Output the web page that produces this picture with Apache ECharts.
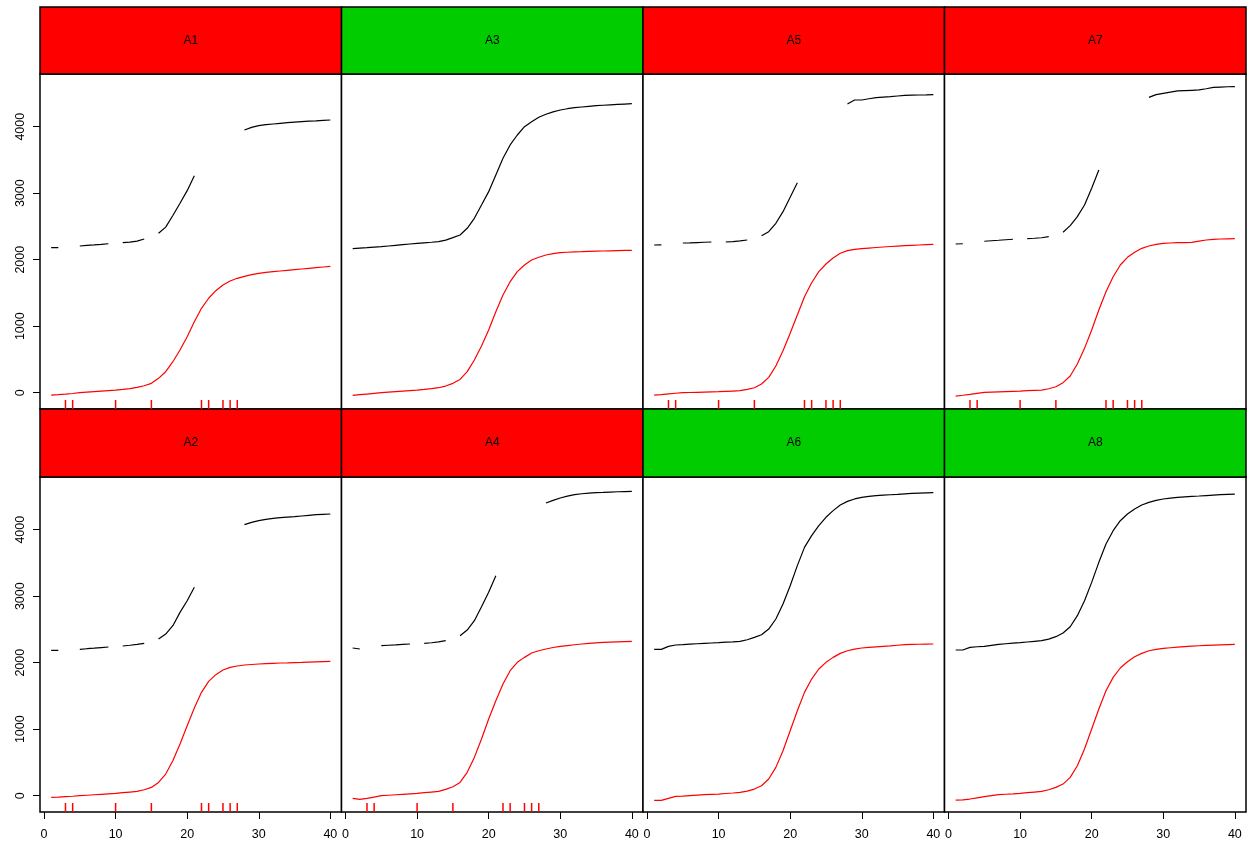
<!DOCTYPE html>
<html>
<head>
<meta charset="utf-8">
<script src="https://cdn.jsdelivr.net/npm/echarts@6/dist/echarts.min.js"></script>
<style>
  html, body { margin: 0; padding: 0; background: #fff; }
  #chart { width: 1249px; height: 845px; }
</style>
</head>
<body>
<div id="chart"></div>
<script>
// cycle numbers on the x axis
var cycles = [1,2,3,4,5,6,7,8,9,10,11,12,13,14,15,16,17,18,19,20,
              21,22,23,24,25,26,27,28,29,30,31,32,33,34,35,36,37,38,39,40];
// cycles marked with a rug tick in the flagged panels
var rugCycles = [3,4,10,15,22,23,25,26,27];
var xTicks = [0,10,20,30,40];
var yTicks = [0,1000,2000,3000,4000];

// panels in layout order (row by row)
var panelNames = ['A1','A3','A5','A7','A2','A4','A6','A8'];
var panelFlagged = [true,false,true,true,true,true,false,false];

var a1Black = [2180,2182,null,null,2206,2215,2222,2230,2240,null,2256,2265,2280,2311,null,2397,2490,2665,2848,3038,
               3263,null,null,3750,null,null,null,3950,3990,4015,4030,4040,4050,4060,4068,4075,4082,4088,4095,4100];
var a1Red = [-35,-30,-22,-12,0,8,16,24,32,40,50,62,80,105,141,216,316,466,642,842,
             1068,1269,1420,1534,1620,1680,1720,1750,1775,1795,1808,1820,1830,1840,1850,1860,1870,1880,1890,1900];

var a3Black = [2166,2174,2181,2189,2196,2206,2216,2226,2236,2246,2254,2262,2271,2295,2331,2371,2472,2622,2822,3023,
               3274,3525,3725,3875,4000,4075,4141,4186,4222,4251,4270,4286,4296,4306,4316,4322,4328,4334,4340,4346];
var a3Red = [-40,-30,-20,-10,0,8,16,24,32,40,50,62,75,100,141,200,316,491,702,943,
             1218,1469,1669,1820,1920,1995,2036,2070,2090,2105,2112,2118,2120,2125,2128,2131,2134,2137,2139,2141];

var a5Black = [2221,2222,null,null,2251,2254,2258,2262,2266,null,2266,2272,2282,2296,null,2361,2421,2547,2722,2938,
               3158,null,null,3900,null,null,null,4341,4401,4401,4420,4436,4444,4451,4461,4471,4474,4476,4478,4481];
var a5Red = [-35,-28,-18,-8,0,3,6,9,12,15,20,25,30,50,75,131,231,401,632,893,
             1168,1444,1654,1820,1935,2025,2096,2136,2155,2166,2175,2183,2191,2198,2205,2211,2216,2221,2226,2231];

var a7Black = [2236,2240,null,null,2277,2285,2292,2300,2307,null,2316,2322,2330,2346,null,2412,2512,2647,2822,3073,
               3349,null,null,4000,null,null,null,4441,4482,4502,4520,4537,4542,4547,4552,4570,4590,4596,4600,4602];
var a7Red = [-50,-38,-25,-10,5,9,13,17,21,25,30,35,40,60,90,151,251,431,667,943,
             1244,1519,1744,1920,2036,2111,2171,2206,2230,2246,2251,2256,2258,2261,2280,2296,2305,2311,2314,2316];

var a2Black = [2185,2185,null,null,2201,2210,2218,2227,2236,null,2251,2262,2275,2291,null,2356,2431,2556,2757,2932,
               3133,null,null,3700,null,null,null,4075,4110,4135,4155,4170,4180,4188,4196,4206,4216,4226,4231,4236];
var a2Red = [-25,-22,-15,-8,0,7,14,21,28,35,45,55,65,90,125,200,326,526,777,1053,
             1318,1554,1719,1820,1890,1930,1950,1965,1973,1980,1985,1990,1995,1998,2002,2005,2009,2013,2017,2020];

var a4Black = [2221,2206,null,null,2256,2262,2268,2275,2281,null,2291,2300,2312,2331,null,2406,2491,2632,2842,3058,
               3308,null,null,4000,null,null,null,4401,4440,4476,4505,4526,4540,4550,4556,4560,4565,4570,4573,4576];
var a4Red = [-40,-55,-40,-20,0,7,14,21,28,35,45,55,65,95,135,200,351,576,852,1153,
             1429,1679,1880,2005,2080,2146,2180,2206,2228,2246,2258,2270,2281,2290,2298,2306,2310,2314,2318,2321];

var a6Black = [2200,2200,2246,2266,2271,2278,2285,2291,2296,2301,2308,2314,2321,2345,2381,2421,2506,2657,2882,3158,
               3459,3734,3910,4060,4186,4286,4371,4426,4462,4486,4500,4511,4518,4525,4531,4538,4545,4551,4554,4556];
var a6Red = [-70,-70,-40,-10,-5,2,9,15,20,25,33,41,50,70,100,150,251,426,677,977,
             1278,1554,1754,1905,2005,2080,2140,2180,2205,2221,2230,2238,2246,2252,2262,2271,2274,2277,2279,2281];

var a8Black = [2191,2191,2231,2240,2246,2261,2276,2285,2293,2301,2311,2321,2331,2355,2391,2446,2541,2707,2932,3208,
               3509,3785,3985,4135,4236,4311,4371,4411,4440,4461,4475,4486,4493,4500,4506,4513,4520,4526,4531,4536];
var a8Red = [-65,-62,-50,-32,-15,0,15,22,28,35,45,55,65,90,125,175,276,451,702,1003,
             1303,1579,1779,1920,2015,2090,2140,2180,2200,2216,2225,2233,2241,2248,2255,2261,2265,2269,2273,2276];

var blackSeries = [a1Black, a3Black, a5Black, a7Black, a2Black, a4Black, a6Black, a8Black];
var redSeries = [a1Red, a3Red, a5Red, a7Red, a2Red, a4Red, a6Red, a8Red];

var X_MIN = -0.56, X_MAX = 41.56;
var Y_MIN = -245, Y_MAX = 4792;
var FONT = 'Liberation Sans, Arial, Helvetica, sans-serif';

var colLeft = [40, 341.5, 643, 944.5];
var colWidth = 301.5;
var rowTop = [74, 477];
var rowHeight = 335;
var stripTop = [7, 409];
var stripHeight = [67, 68];

var chart = echarts.init(document.getElementById('chart'));

var grids = [], xAxes = [], yAxes = [], series = [], graphics = [];

panelNames.forEach(function (name, i) {
  var row = Math.floor(i / 4), col = i % 4;
  var bottomRow = row === 1, leftCol = col === 0;

  grids.push({
    left: colLeft[col], top: rowTop[row], width: colWidth, height: rowHeight,
    show: true, borderColor: '#000', borderWidth: 1.5, backgroundColor: '#fff'
  });

  xAxes.push({
    gridIndex: i, type: 'value', min: X_MIN, max: X_MAX, position: 'bottom',
    axisLine: { show: false, onZero: false }, splitLine: { show: false },
    axisTick: { show: bottomRow, customValues: xTicks, length: 7, lineStyle: { color: '#000', width: 1 } },
    axisLabel: { show: bottomRow, customValues: xTicks, margin: 16, color: '#000', fontSize: 12.5, fontFamily: FONT }
  });

  yAxes.push({
    gridIndex: i, type: 'value', min: Y_MIN, max: Y_MAX, position: 'left',
    axisLine: { show: false, onZero: false }, splitLine: { show: false },
    axisTick: { show: leftCol, customValues: yTicks, length: 7, lineStyle: { color: '#000', width: 1 } },
    axisLabel: {
      show: leftCol, customValues: yTicks, rotate: 90, margin: 13, color: '#000', fontSize: 12.5, fontFamily: FONT,
      formatter: function (v) { return String(v); }
    }
  });

  var toPairs = function (arr) {
    return cycles.map(function (c, j) { return [c, arr[j] === null ? '-' : arr[j]]; });
  };

  series.push({
    type: 'line', xAxisIndex: i, yAxisIndex: i, data: toPairs(blackSeries[i]),
    showSymbol: false, connectNulls: false, silent: true,
    lineStyle: { color: '#000', width: 1.2 }
  });
  series.push({
    type: 'line', xAxisIndex: i, yAxisIndex: i, data: toPairs(redSeries[i]),
    showSymbol: false, silent: true,
    lineStyle: { color: '#ff0000', width: 1.2 }
  });

  if (panelFlagged[i]) {
    series.push({
      type: 'custom', xAxisIndex: i, yAxisIndex: i, silent: true,
      data: rugCycles.map(function (c) { return [c, Y_MIN]; }),
      renderItem: function (params, api) {
        var p = api.coord([api.value(0), api.value(1)]);
        return {
          type: 'line',
          shape: { x1: p[0], y1: p[1], x2: p[0], y2: p[1] - 9 },
          style: { stroke: '#ff0000', lineWidth: 1.5 }
        };
      }
    });
  }

  // strip on top of each panel
  graphics.push({
    type: 'rect',
    shape: { x: colLeft[col], y: stripTop[row], width: colWidth, height: stripHeight[row] },
    style: { fill: panelFlagged[i] ? '#ff0000' : '#00cc00', stroke: '#000', lineWidth: 1.5 }
  });
  graphics.push({
    type: 'text',
    x: colLeft[col] + colWidth / 2, y: stripTop[row] + stripHeight[row] / 2,
    style: { text: name, fill: '#000', font: '12px ' + FONT, textAlign: 'center', textVerticalAlign: 'middle' }
  });
});

chart.setOption({
  animation: false,
  backgroundColor: '#fff',
  grid: grids,
  xAxis: xAxes,
  yAxis: yAxes,
  series: series,
  graphic: graphics
});
</script>
</body>
</html>
